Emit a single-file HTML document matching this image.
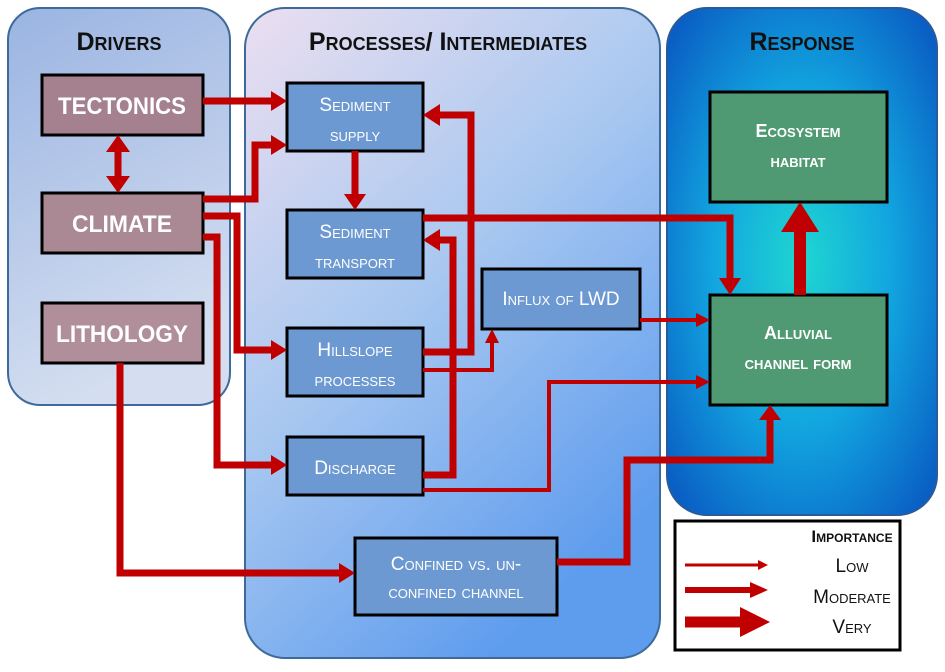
<!DOCTYPE html>
<html><head><meta charset="utf-8"><style>
html,body{margin:0;padding:0;background:#fff;}
svg text{font-family:"Liberation Sans",sans-serif;font-variant:small-caps;font-weight:bold;}
svg text.n{font-weight:normal;}
</style></head><body>
<svg width="945" height="667" viewBox="0 0 945 667" xmlns="http://www.w3.org/2000/svg">
<defs>
<linearGradient id="gd" x1="0" y1="0" x2="0.3" y2="1"><stop offset="0" stop-color="#9ab4e2"/><stop offset="1" stop-color="#d4def0"/></linearGradient>
<linearGradient id="gp" x1="0" y1="0" x2="0.6" y2="1"><stop offset="0" stop-color="#ecdff0"/><stop offset="0.5" stop-color="#a9c8f0"/><stop offset="1" stop-color="#5e9cee"/></linearGradient>
<radialGradient id="gr" cx="0.5" cy="0.5" r="0.65"><stop offset="0" stop-color="#1fd6d0"/><stop offset="0.5" stop-color="#12a6e0"/><stop offset="1" stop-color="#0a5fc4"/></radialGradient>
</defs>
<rect x="8" y="8" width="222" height="397" rx="32" fill="url(#gd)" stroke="#3e6a9a" stroke-width="2"/>
<rect x="245" y="8" width="415" height="650" rx="40" fill="url(#gp)" stroke="#3e6a9a" stroke-width="2"/>
<rect x="667" y="8" width="270" height="507" rx="40" fill="url(#gr)" stroke="#2a5a9a" stroke-width="2"/>
<text x="119" y="50" font-size="25" text-anchor="middle" fill="#111">Drivers</text>
<text x="448" y="50" font-size="25" text-anchor="middle" fill="#111">Processes/ Intermediates</text>
<text x="802" y="50" font-size="25" text-anchor="middle" fill="#111">Response</text>

<g stroke="#000" stroke-width="3">
<rect x="42" y="75" width="161" height="60" fill="#a5808f"/>
<rect x="42" y="193" width="161" height="60" fill="#aa8894"/>
<rect x="42" y="303" width="161" height="60" fill="#b08e9a"/>
<g fill="#6d99d2">
<rect x="287" y="83" width="136" height="68"/>
<rect x="287" y="210" width="136" height="68"/>
<rect x="287" y="328" width="136" height="68"/>
<rect x="287" y="437" width="136" height="58"/>
<rect x="482" y="269" width="158" height="60"/>
<rect x="355" y="538" width="202" height="77"/>
</g>
<rect x="710" y="92" width="177" height="110" fill="#4f9a72"/>
<rect x="710" y="295" width="177" height="110" fill="#4f9a72"/>
</g>
<g fill="#fff" text-anchor="middle">
<text x="122" y="114" font-size="24" font-variant="normal" textLength="128" lengthAdjust="spacingAndGlyphs">TECTONICS</text>
<text x="122" y="232" font-size="24" font-variant="normal" textLength="100" lengthAdjust="spacingAndGlyphs">CLIMATE</text>
<text x="122" y="342" font-size="24" font-variant="normal" textLength="132" lengthAdjust="spacingAndGlyphs">LITHOLOGY</text>
<g font-size="19">
<text class="n" x="355" y="111">Sediment</text><text class="n" x="355" y="141">supply</text>
<text class="n" x="355" y="238">Sediment</text><text class="n" x="355" y="268">transport</text>
<text class="n" x="355" y="356">Hillslope</text><text class="n" x="355" y="386">processes</text>
<text class="n" x="355" y="474">Discharge</text>
<text class="n" x="561" y="305">Influx of LWD</text>
<text class="n" x="456" y="570">Confined vs. un-</text><text class="n" x="456" y="598">confined channel</text>
</g>
<text x="798" y="137" font-size="18">Ecosystem</text><text x="798" y="167" font-size="18">habitat</text>
<text x="798" y="339" font-size="18">Alluvial</text><text x="798" y="369" font-size="18">channel form</text>
</g>

<g fill="none" stroke="#c00000" stroke-linejoin="miter">
<g stroke-width="7">
<polyline points="203,101 275,101"/>
<polyline points="203,199 255,199 255,145 275,145"/>
<polyline points="203,216 237,216 237,350 275,350"/>
<polyline points="203,237 217,237 217,465 275,465"/>
<polyline points="118,150 118,178"/>
<polyline points="355,151 355,196"/>
<polyline points="423,352 471,352 471,115 437,115"/>
<polyline points="423,475 453,475 453,240 437,240"/>
<polyline points="423,218 730,218 730,280"/>
<polyline points="120,363 120,573 341,573"/>
<polyline points="557,562 627,562 627,460 770,460 770,418"/>
</g>
<g stroke-width="4">
<polyline points="423,370 492,370 492,342"/>
<polyline points="640,320 698,320"/>
<polyline points="423,490 549,490 549,382 698,382"/>
</g>
<polyline points="800,295 800,228" stroke-width="12"/>
</g>
<g fill="#c00000">
<polygon points="287,101 271,91 271,111"/>
<polygon points="287,145 271,135 271,155"/>
<polygon points="287,350 271,340 271,360"/>
<polygon points="287,465 271,455 271,475"/>
<polygon points="118,135 106,152 130,152"/>
<polygon points="118,193 106,176 130,176"/>
<polygon points="355,210 344,194 366,194"/>
<polygon points="423,115 440,104 440,126"/>
<polygon points="423,240 440,229 440,251"/>
<polygon points="730,295 719,278 741,278"/>
<polygon points="355,573 339,563 339,583"/>
<polygon points="770,405 759,420 781,420"/>
<polygon points="492,329 485,343 499,343"/>
<polygon points="710,320 696,313 696,327"/>
<polygon points="710,382 696,375 696,389"/>
<polygon points="800,202 781,232 819,232"/>
</g>

<rect x="675" y="521" width="225" height="129" fill="#fff" stroke="#000" stroke-width="3"/>
<text x="852" y="542" font-size="17" text-anchor="middle" fill="#111">Importance</text>
<g font-size="19" text-anchor="middle" fill="#111">
<text class="n" x="852" y="572">Low</text>
<text class="n" x="852" y="603">Moderate</text>
<text class="n" x="852" y="633">Very</text>
</g>
<g stroke="#c00000" fill="none">
<line x1="685" y1="565" x2="760" y2="565" stroke-width="3"/>
<line x1="685" y1="590" x2="752" y2="590" stroke-width="6"/>
<line x1="685" y1="622" x2="742" y2="622" stroke-width="11"/>
</g>
<g fill="#c00000">
<polygon points="768,565 758,560 758,570"/>
<polygon points="768,590 750,582 750,598"/>
<polygon points="770,622 740,607 740,637"/>
</g>
</svg>
</body></html>
